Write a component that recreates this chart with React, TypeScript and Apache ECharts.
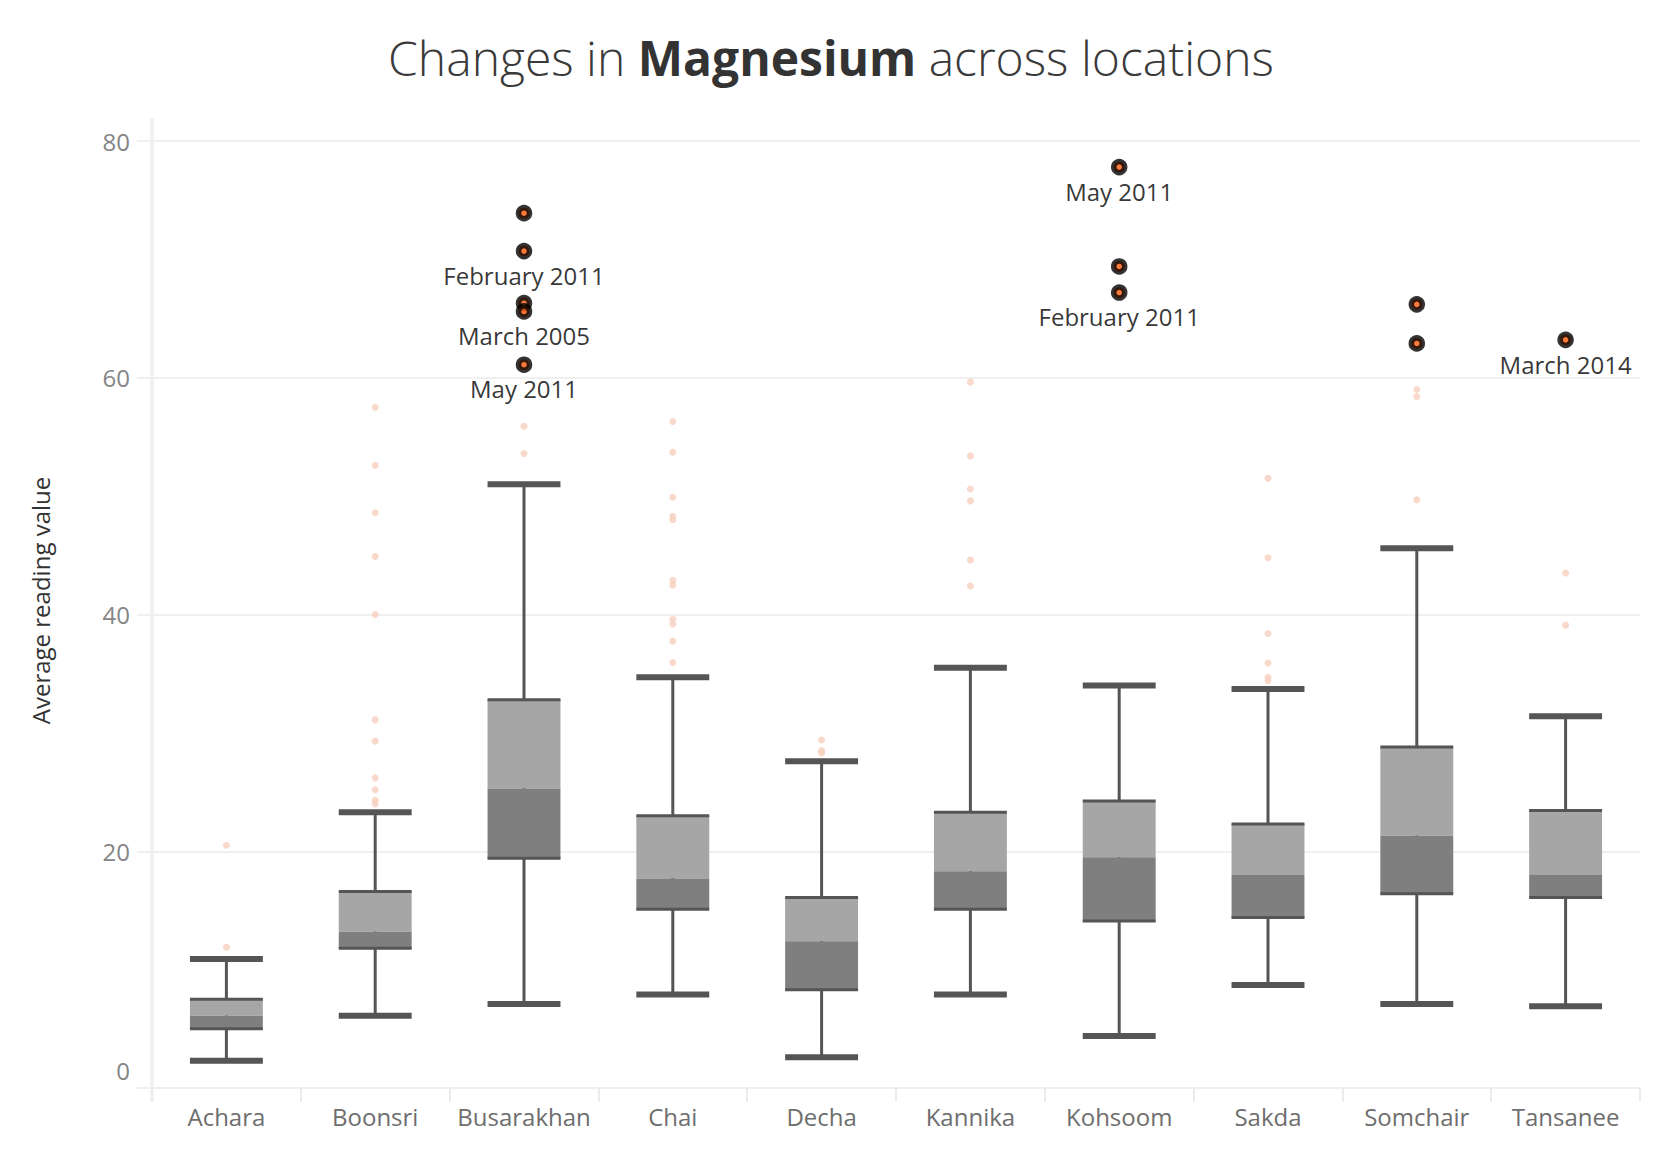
import React, { useEffect, useRef } from 'react';
import * as echarts from 'echarts';

const categories = ['Achara', 'Boonsri', 'Busarakhan', 'Chai', 'Decha', 'Kannika', 'Kohsoom', 'Sakda', 'Somchair', 'Tansanee'];
const whiskerLow = [2.3, 6.1, 7.1, 7.9, 2.6, 7.9, 4.4, 8.7, 7.1, 6.9];
const q1 = [5.0, 11.8, 19.4, 15.1, 8.3, 15.1, 14.1, 14.4, 16.4, 16.1];
const median = [6.1, 13.2, 25.3, 17.7, 12.4, 18.3, 19.5, 18.0, 21.3, 18.0];
const q3 = [7.5, 16.6, 32.8, 23.0, 16.1, 23.3, 24.25, 22.3, 28.8, 23.45];
const whiskerHigh = [10.9, 23.3, 51.0, 34.7, 27.6, 35.5, 34.0, 33.7, 45.6, 31.4];

const outlierCats = [
  'Achara', 'Achara',
  'Boonsri', 'Boonsri', 'Boonsri', 'Boonsri', 'Boonsri', 'Boonsri', 'Boonsri', 'Boonsri', 'Boonsri', 'Boonsri', 'Boonsri',
  'Busarakhan', 'Busarakhan',
  'Chai', 'Chai', 'Chai', 'Chai', 'Chai', 'Chai', 'Chai', 'Chai', 'Chai', 'Chai', 'Chai',
  'Decha', 'Decha', 'Decha',
  'Kannika', 'Kannika', 'Kannika', 'Kannika', 'Kannika', 'Kannika',
  'Sakda', 'Sakda', 'Sakda', 'Sakda', 'Sakda', 'Sakda',
  'Somchair', 'Somchair', 'Somchair',
  'Tansanee', 'Tansanee',
];
const outlierValues = [
  11.9, 20.5,
  57.5, 52.6, 48.6, 44.9, 40.0, 31.1, 29.3, 26.2, 25.2, 24.3, 24.0,
  55.9, 53.6,
  56.3, 53.7, 49.9, 48.3, 48.0, 42.9, 42.5, 39.6, 39.2, 37.75, 35.95,
  29.4, 28.5, 28.3,
  59.65, 53.4, 50.6, 49.6, 44.6, 42.4,
  51.5, 44.8, 38.4, 35.9, 34.7, 34.4,
  59.0, 58.4, 49.7,
  43.5, 39.1,
];

const highlightCats = ['Busarakhan', 'Busarakhan', 'Busarakhan', 'Busarakhan', 'Busarakhan', 'Kohsoom', 'Kohsoom', 'Kohsoom', 'Somchair', 'Somchair', 'Tansanee'];
const highlightValues = [73.9, 70.7, 66.3, 65.6, 61.1, 77.8, 69.4, 67.2, 66.2, 62.9, 63.2];
const highlightLabels = ['', 'February 2011', '', 'March 2005', 'May 2011', 'May 2011', '', 'February 2011', '', '', 'March 2014'];

const yTicks = [0, 20, 40, 60, 80];

const FONT = '"Open Sans", "Noto Sans", sans-serif';

export default function App() {
  const ref = useRef<HTMLDivElement>(null);

  useEffect(() => {
    if (!ref.current) return;
    const chart = echarts.init(ref.current, null, { renderer: 'svg' });

    const boxData = categories.map((_, i) => [i, whiskerLow[i], q1[i], median[i], q3[i], whiskerHigh[i]]);
    const outlierData = outlierCats.map((c, i) => [c, outlierValues[i]]);
    const highlightData = highlightCats.map((c, i) => ({
      value: [c, highlightValues[i]],
      label: { show: highlightLabels[i] !== '', formatter: highlightLabels[i] },
    }));

    const option: any = {
      animation: false,
      backgroundColor: '#ffffff',
      title: {
        left: 'center',
        top: 28,
        text: '{l|Changes in }{b|Magnesium}{l| across locations}',
        textStyle: {
          rich: {
            l: { fontSize: 48, fontWeight: 300, color: '#3a3a3a', fontFamily: FONT },
            b: { fontSize: 48, fontWeight: 'bold', color: '#333333', fontFamily: FONT },
          },
        },
      },
      grid: { left: 152, right: 22, top: 141, bottom: 62, containLabel: false },
      xAxis: {
        type: 'category',
        data: categories,
        boundaryGap: true,
        axisLine: { show: true, lineStyle: { color: '#efefef', width: 2 } },
        axisTick: { show: true, interval: 0, length: 14, lineStyle: { color: '#ebebeb', width: 2 } },
        axisLabel: { interval: 0, color: '#6e6e6e', fontSize: 24, fontFamily: FONT, margin: 16 },
        splitLine: { show: false },
      },
      yAxis: {
        type: 'value',
        min: yTicks[0],
        max: yTicks[yTicks.length - 1],
        interval: 20,
        name: 'Average reading value',
        nameLocation: 'middle',
        nameRotate: 90,
        nameGap: 100,
        nameTextStyle: { color: '#333333', fontSize: 24, fontFamily: FONT, padding: [0, 0, 0, 28] },
        axisLine: { show: false },
        axisTick: { show: true, length: 15, lineStyle: { color: '#f0f0f0', width: 2 } },
        axisLabel: {
          color: '#858585',
          fontSize: 24,
          fontFamily: FONT,
          margin: 22,
          formatter: (v: number) => (v === 0 ? '{z|0}' : String(v)),
          rich: {
            z: { color: '#858585', fontSize: 24, fontFamily: FONT, padding: [0, 0, 36, 0] },
          },
        },
        splitLine: { show: true, lineStyle: { color: '#f0f0f0', width: 2 } },
      },
      graphic: [
        {
          type: 'line',
          shape: { x1: 152, y1: 118, x2: 152, y2: 1102 },
          style: { stroke: '#efefef', lineWidth: 3 },
          z: 0,
          silent: true,
        },
      ],
      series: [
        {
          type: 'custom',
          data: boxData,
          encode: { x: 0, y: [1, 2, 3, 4, 5] },
          z: 3,
          renderItem: (params: any, api: any) => {
            const idx = api.value(0);
            const pLow = api.coord([idx, api.value(1)]);
            const pQ1 = api.coord([idx, api.value(2)]);
            const pMed = api.coord([idx, api.value(3)]);
            const pQ3 = api.coord([idx, api.value(4)]);
            const pHigh = api.coord([idx, api.value(5)]);
            const cx = pLow[0];
            const bw = api.size([1, 0])[0] * 0.49;
            const dark = '#555555';
            return {
              type: 'group',
              children: [
                { type: 'line', shape: { x1: cx, y1: pHigh[1], x2: cx, y2: pLow[1] }, style: { stroke: dark, lineWidth: 3 } },
                { type: 'rect', shape: { x: cx - bw / 2, y: pQ3[1], width: bw, height: pMed[1] - pQ3[1] }, style: { fill: '#a6a6a6' } },
                { type: 'rect', shape: { x: cx - bw / 2, y: pMed[1], width: bw, height: pQ1[1] - pMed[1] }, style: { fill: '#7f7f7f' } },
                { type: 'rect', shape: { x: cx - bw / 2, y: pQ3[1] - 1.5, width: bw, height: 3 }, style: { fill: dark } },
                { type: 'rect', shape: { x: cx - bw / 2, y: pQ1[1] - 1.5, width: bw, height: 3 }, style: { fill: dark } },
                { type: 'rect', shape: { x: cx - bw / 2, y: pHigh[1] - 3, width: bw, height: 6 }, style: { fill: dark } },
                { type: 'rect', shape: { x: cx - bw / 2, y: pLow[1] - 3, width: bw, height: 6 }, style: { fill: dark } },
              ],
            };
          },
        },
        {
          type: 'scatter',
          data: outlierData,
          symbol: 'circle',
          symbolSize: 7,
          z: 2,
          itemStyle: { color: '#f6d0be' },
          silent: true,
        },
        {
          type: 'scatter',
          data: highlightData,
          symbol: 'circle',
          symbolSize: 11,
          z: 5,
          itemStyle: { color: '#ff5a0a', borderColor: '#000000', borderWidth: 5.5 },
          label: {
            show: false,
            position: 'bottom',
            distance: 4,
            color: '#000000',
            fontSize: 24,
            fontFamily: FONT,
          },
          labelLayout: { hideOverlap: false },
        },
      ],
    };

    chart.setOption(option);
    return () => chart.dispose();
  }, []);

  return (
    <div
      ref={ref}
      style={{ position: 'fixed', left: 0, top: 0, width: 1662, height: 1150, background: '#ffffff' }}
    />
  );
}
